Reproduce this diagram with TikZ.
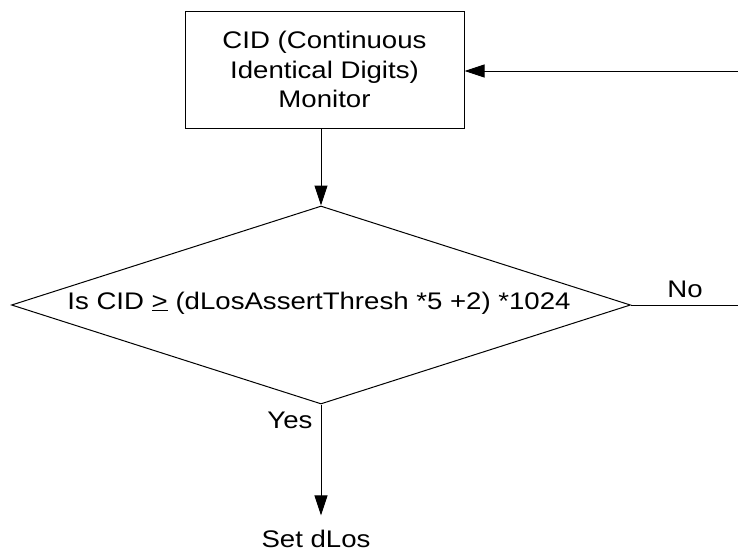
\documentclass[tikz,border=0pt]{standalone}
\usepackage{fontspec}
\setmainfont[FakeStretch=1.15]{Liberation Sans}
\usetikzlibrary{arrows.meta,shapes.geometric}
\begin{document}
\begin{tikzpicture}[x=1pt,y=-1pt,
  every node/.style={font=\fontsize{24}{29.5}\selectfont},
  procbox/.style={draw,line width=1pt,minimum width=279pt,minimum height=117pt,align=center,inner sep=0pt},
  decision/.style={draw,diamond,line width=1pt,minimum width=619pt,minimum height=198pt,inner sep=0pt},
  arr/.style={line width=1pt,-{Triangle[length=20pt,width=13pt]}},
  plain/.style={line width=1pt},
  lbl/.style={inner sep=0pt}]
\useasboundingbox (0,0) rectangle (738,552);
\node[procbox] (cid) at (324.5,69.5) {CID (Continuous\\Identical Digits)\\Monitor};
\node[decision] (dec) at (321,305) {};
\node[lbl] (cond) at (319,303) {Is CID \underline{>} (dLosAssertThresh *5 +2) *1024};
\node[lbl,anchor=base] (set) at (316,547) {Set dLos};
\node[lbl] (no) at (685,289) {No};
\node[lbl] (yes) at (290,420) {Yes};
\coordinate (in) at (738,71);
\coordinate (out) at (738,305);
\draw[arr] (in) -- (in -| cid.east);
\draw[arr] (cid.south -| dec.north) -- (dec.north);
\draw[plain] (dec.east) -- (out);
\draw[arr] (dec.south) -- ([yshift=14pt]set.north -| dec.south);
\end{tikzpicture}
\end{document}
